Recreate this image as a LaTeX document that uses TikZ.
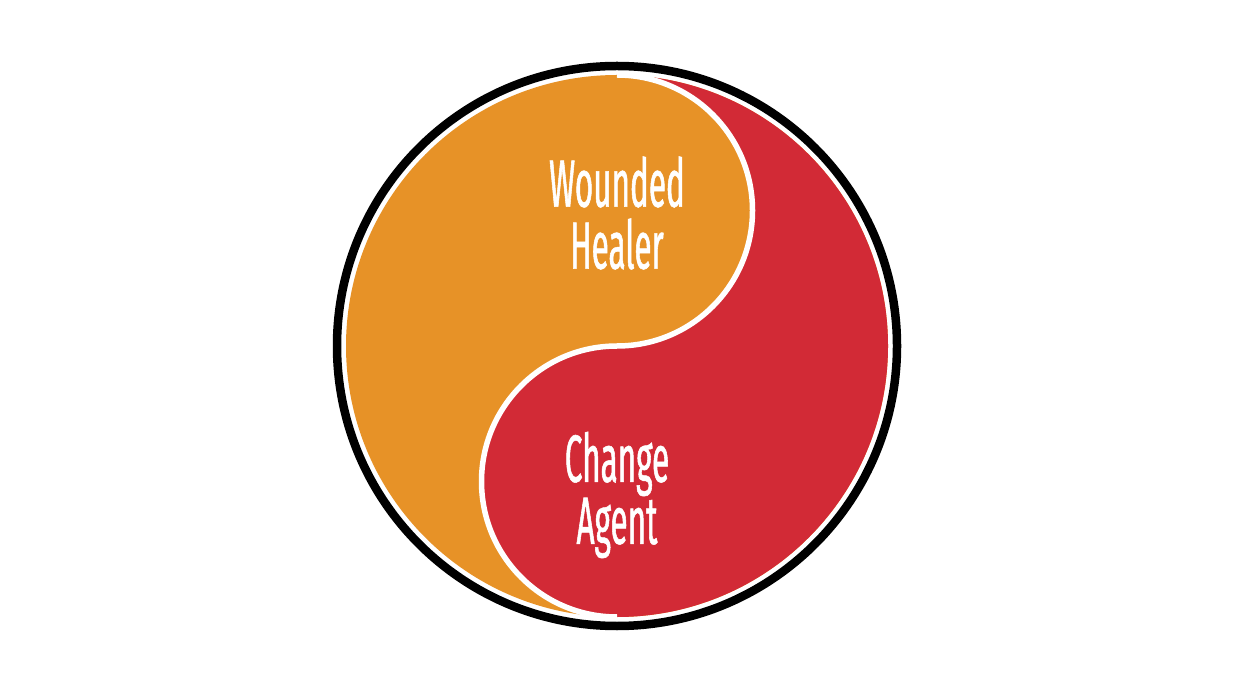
\documentclass[tikz,border=0pt]{standalone}
\usepackage{fontspec}
\newfontfamily\condfont[FakeStretch=0.47,FakeBold=0.8]{Fira Sans}
\definecolor{healerorange}{RGB}{231,146,39}
\definecolor{agentred}{RGB}{210,42,54}
\begin{document}
\begin{tikzpicture}[x=1pt,y=1pt,
  sidelabel/.style={text=white, align=center, font=\condfont\fontsize{67}{62}\selectfont}]
\useasboundingbox (0,0) rectangle (1234,694);
\coordinate (c) at (617,348);
% Wounded half
\fill[healerorange] (c) circle (271);
% Change half
\fill[agentred] (617,619) arc[start angle=90, end angle=-90, radius=271]
  arc[start angle=270, end angle=90, radius=135.5]
  arc[start angle=-90, end angle=90, radius=135.5] -- cycle;
% white seam
\draw[white, line width=5.5] (617,77) arc[start angle=270, end angle=90, radius=135.5]
  arc[start angle=-90, end angle=90, radius=135.5];
% ring
\draw[black, line width=8.5] (c) circle (280);
\node[sidelabel] (healer) at (617,481) {Wounded\\Healer};
\node[sidelabel] (agent) at (617,199) {Change\\Agent};
\end{tikzpicture}
\end{document}
